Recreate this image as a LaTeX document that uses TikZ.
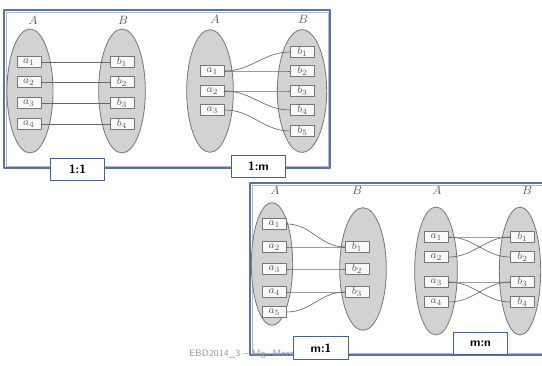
\documentclass[tikz,border=0pt]{standalone}
\usepackage{amsmath,amsfonts}
\usepackage{xcolor}
\usepackage{tikz}
\usetikzlibrary{positioning,shapes.geometric}

\definecolor{panelblue}{RGB}{84,114,172}
\definecolor{tagblue}{RGB}{68,98,150}
\definecolor{setgray}{RGB}{210,210,210}
\definecolor{edgegray}{RGB}{118,118,118}
\definecolor{linkgray}{RGB}{105,105,105}
\definecolor{textgray}{RGB}{95,95,95}

\tikzset{
  set/.style 2 args={ellipse, draw=edgegray, fill=setgray, line width=0.6pt,
    minimum width=#1, minimum height=#2, inner sep=0pt},
  setname/.style={text=textgray, font=\small, inner sep=0pt},
  elem/.style={draw=edgegray, fill=white!95!gray, line width=0.5pt,
    minimum width=18pt, minimum height=8pt, inner sep=0pt,
    text=textgray, font=\footnotesize},
  link/.style={draw=linkgray, line width=0.5pt},
  panel/.style={draw=panelblue, line width=1.1pt, fill=white},
  panelshade/.style={draw=gray!55, line width=0.4pt},
  tag/.style={draw=tagblue, fill=white, line width=0.8pt,
    minimum width=41pt, minimum height=17pt, inner sep=0pt,
    font=\sffamily\bfseries\small}
}

\begin{document}
\begin{tikzpicture}[x=0.75pt, y=-0.75pt, line cap=round, line join=round]
        \clip (0,0) rectangle (542,366);
        \fill[white] (0,0) rectangle (542,366);

        % Frames
        \draw[panel] (4,10) rectangle (330,168);
        \draw[panelshade] (6,12) rectangle (328,166);
        \draw[panel] (250,183) rectangle (560,355);
        \draw[panelshade] (252,185) rectangle (560,353);

        % 1:1
        \node[set={34.5pt}{93pt}] (ooA) at (30,91) {};
        \node[set={35pt}{93pt}] (ooB) at (122,91) {};
        \node[setname] (ooAn) at (33,20) {$A$};
        \node[setname] (ooBn) at (123,20) {$B$};
        \foreach \i/\y in {1/62,2/82,3/103,4/124} {
            \node[elem] (ooa\i) at (29,\y) {$a_{\i}$};
            \node[elem] (oob\i) at (122,\y) {$b_{\i}$};
            \draw[link] (ooa\i.east) -- (oob\i.west);
        }

        % 1:m
        \node[set={35pt}{92pt}] (omA) at (210,91) {};
        \node[set={37pt}{92pt}] (omB) at (302,91) {};
        \node[setname] (omAn) at (215,19) {$A$};
        \node[setname] (omBn) at (303,19) {$B$};
        \foreach \i/\y in {1/71,2/91,3/110}
            \node[elem] (oma\i) at (212.5,\y) {$a_{\i}$};
        \foreach \i/\y in {1/52,2/71,3/91,4/110,5/131}
            \node[elem] (omb\i) at (302.5,\y) {$b_{\i}$};
        \foreach \s/\t in {1/1,1/2,2/3,2/4,3/5}
            \draw[link] (oma\s.east) to[out=0, in=180] (omb\t.west);

        % m:1
        \node[set={31pt}{92pt}] (moA) at (272,264) {};
        \node[set={35pt}{92pt}] (moB) at (363,269) {};
        \node[setname] (moAn) at (275,190) {$A$};
        \node[setname] (moBn) at (357,190) {$B$};
        \foreach \i/\y in {1/224,2/247,3/269,4/292,5/312}
            \node[elem] (moa\i) at (274.5,\y) {$a_{\i}$};
        \foreach \i/\y in {1/247,2/269,3/292}
            \node[elem] (mob\i) at (357,\y) {$b_{\i}$};
        \foreach \s/\t in {1/1,2/1,3/2,4/3,5/3}
            \draw[link] (moa\s.east) to[out=0, in=180] (mob\t.west);

        % m:n
        \node[set={32pt}{96pt}] (mnA) at (436,271) {};
        \node[set={31pt}{96pt}] (mnB) at (520,271) {};
        \node[setname] (mnAn) at (437,190) {$A$};
        \node[setname] (mnBn) at (527,190) {$B$};
        \foreach \i/\y in {1/237,2/257,3/282,4/302} {
            \node[elem] (mna\i) at (436.5,\y) {$a_{\i}$};
            \node[elem] (mnb\i) at (522.5,\y) {$b_{\i}$};
        }
        \foreach \s/\t in {1/1,1/2,2/1,3/3,3/4,4/3}
            \draw[link] (mna\s.east) to[out=0, in=180] (mnb\t.west);

        % footer
        \node[anchor=west, text=gray!80, font=\sffamily\fontsize{7}{8}\selectfont, inner sep=0pt]
            (foot) at (189,354) {EBD2014\_3 -- Mg. Merc};

        % Tags
        \node[tag] (t11) at (77.5,169.5) {1:1};
        \node[tag] (t1m) at (258.5,166.5) {1:m};
        \node[tag] (tm1) at (321,348) {m:1};
        \node[tag] (tmn) at (480.5,343.5) {m:n};
    \end{tikzpicture}
\end{document}
